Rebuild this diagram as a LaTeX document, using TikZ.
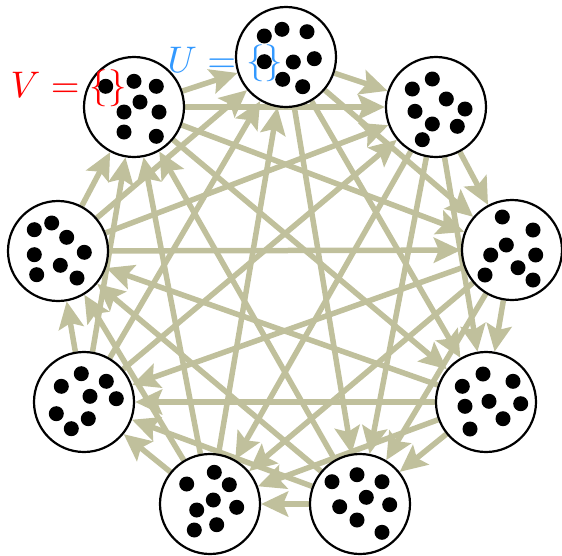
\documentclass[tikz,border=0pt]{standalone}
\usepackage{tikz}
\usetikzlibrary{arrows.meta, backgrounds}
\definecolor{edgekhaki}{RGB}{192,192,156}
\definecolor{ublue}{RGB}{51,153,255}

\begin{document}
\begin{tikzpicture}[x=1pt, y=-1pt, >=Stealth,
    setnode/.style={circle, draw, line width=2.2pt, fill=white,
      minimum size=100pt, inner sep=0pt},
    edge/.style={->, draw=edgekhaki, line width=5.5pt,
      -{Stealth[length=27pt, width=25pt, inset=5pt]}},
    setlabel/.style={anchor=base west, inner sep=0pt, scale=3.7}]
  \useasboundingbox (0,0) rectangle (562,555);

  % the nine sets, clockwise from the top
  \node[setnode] (s0) at (286,57) {};
  \node[setnode] (s1) at (436,107) {};
  \node[setnode] (s2) at (512,250) {};
  \node[setnode] (s3) at (486,402) {};
  \node[setnode] (s4) at (360,504) {};
  \node[setnode] (s5) at (210,504) {};
  \node[setnode] (s6) at (84,402) {};
  \node[setnode] (s7) at (58,251) {};
  \node[setnode] (s8) at (134,107) {};

  % elements inside each set
  \foreach \n/\pts in {
    s0/{(-21.7,-21),(-4,-27.7),(21,-25.3),(-21.7,4.7),(7.3,5),(28.3,1.7),(-3.3,22.3),(16.7,29.7)},
    s1/{(-23.7,-18),(-3.7,-28),(10.3,-8),(-21,4.3),(29,2),(-3.7,17),(21.3,19.3),(-13.7,32.7)},
    s2/{(-9.7,-33),(21,-20),(-5.7,-5),(-21.3,5),(23.7,5),(6,17.7),(-27,25),(21,30)},
    s3/{(-23.7,-15.7),(-3,-28),(27,-20.7),(-21,4.3),(3,-0.7),(34.7,1.7),(17,16.7),(-16,27)},
    s4/{(-28,-22.3),(-3,-29.3),(22,-22.3),(6.3,-6.7),(-20.3,2.7),(29.7,0.7),(-3,16),(22,28.3)},
    s5/{(-23.3,-20),(4.3,-31.7),(19.3,-19.3),(3.3,-4),(-13.3,6),(26.7,3.3),(-15.7,26),(6.7,20.7)},
    s6/{(-2.7,-28.3),(-22.7,-15.7),(22.3,-20.7),(6,-5.7),(32.3,-3.3),(-27.7,11.7),(4.3,16.7),(-12.7,26.7)},
    s7/{(-23.7,-21.3),(-6.3,-28),(8.7,-13.7),(-23.7,3.7),(26.3,1.3),(2.3,14.3),(-21.3,23.7),(19,27)},
    s8/{(-28.3,-20.7),(0,-25.7),(22.3,-20.7),(6,-5),(-10,5),(25,5),(-10,25),(22.3,29.3)}}
  {
    \begin{scope}[shift={(\n.center)}]
      \foreach \p in \pts
        \fill \p circle (7.5pt);
    \end{scope}
  }

  % each set points to the next four, clockwise
  \begin{scope}[on background layer]
    \foreach \i in {0,...,8}
      \foreach \k in {1,...,4} {
        \pgfmathtruncatemacro\j{mod(\i+\k,9)}
        \draw[edge] (s\i) -- (s\j);
      }
  \end{scope}

  \node[setlabel, text=red] (vlabel) at (10,97) {$V=\{\}$};
  \node[setlabel, text=ublue] (ulabel) at (167,72) {$U=\{\}$};
\end{tikzpicture}
\end{document}
